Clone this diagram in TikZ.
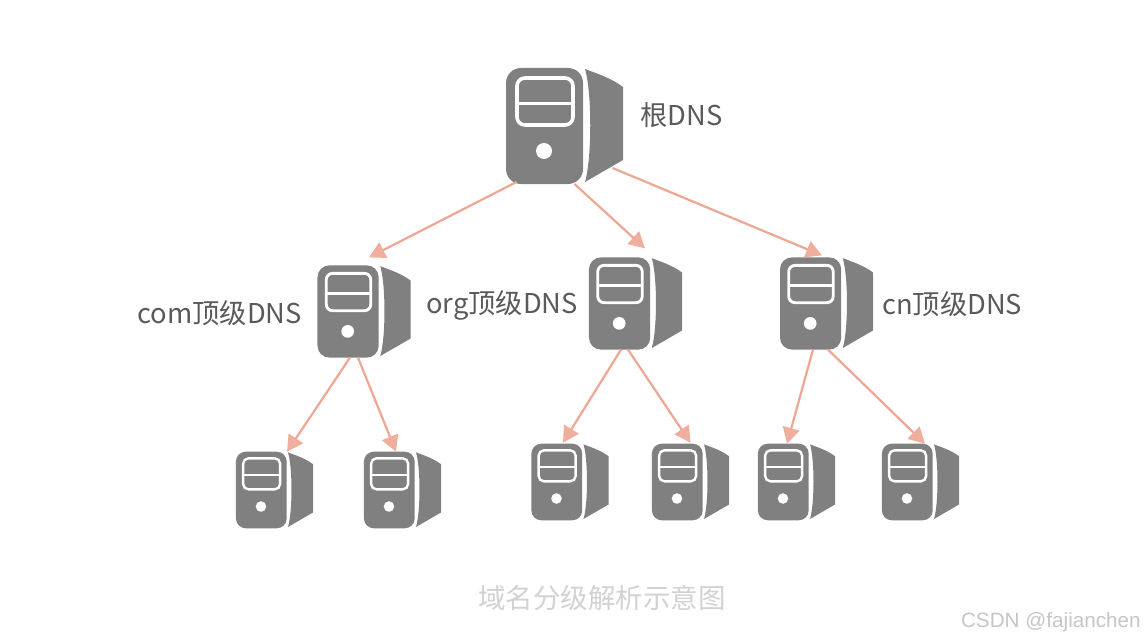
\documentclass[tikz,border=0pt]{standalone}
\usepackage{fontspec}
\usetikzlibrary{arrows.meta}
\newfontfamily\cjk{Noto Sans CJK SC}
\setmainfont{Liberation Sans}
\definecolor{srvgray}{HTML}{808080}
\definecolor{linkred}{HTML}{EDA793}
\definecolor{headred}{HTML}{F0AF9E}
\definecolor{labelgray}{HTML}{5A5A5A}
\definecolor{titlegray}{HTML}{D2D2D2}
\definecolor{markgray}{HTML}{C6C6C6}
\tikzset{
  srvbox/.style={inner sep=0pt,outer sep=0pt,minimum width=#1*117pt,minimum height=#1*116pt},
  link/.style={draw=linkred,line width=2.2pt,-{Triangle[length=16pt,width=17pt,fill=headred,color=headred]}},
  srvlabel/.style={text=labelgray,font=\cjk\fontsize{27.3}{32}\selectfont,inner sep=0pt},
}
% \srvdraw{name}{centre x}{centre y}{scale}
\newcommand{\srvdraw}[4]{%
  \begin{scope}[shift={(#2-#4*58.5,#3-#4*58)},x=#4*1pt,y=-#4*1pt]
    \fill[srvgray] (79,1) .. controls (86,25) and (86,90) .. (79,114) -- (117,92) -- (117,19) .. controls (105,10) and (92,6) .. cycle;
    \fill[srvgray,rounded corners=#4*15pt] (0,0) rectangle (77,116);
    \draw[white,line width=#4*3.6pt,rounded corners=#4*8pt] (11,10) rectangle (67,57);
    \draw[white,line width=#4*3.6pt] (11,35.5) -- (67,35.5);
    \fill[white] (38,83) circle (8);
  \end{scope}%
  \node[srvbox=#4] (#1) at (#2,#3) {};%
}
\begin{document}
\begin{tikzpicture}[x=1pt,y=-1pt]
\useasboundingbox (0,0) rectangle (1146,642);
\fill[white] (0,0) rectangle (1146,642);
\srvdraw{root}{564.5}{126}{1}
\srvdraw{com}{364}{311.5}{0.795}
\srvdraw{org}{635.5}{303.5}{0.795}
\srvdraw{cn}{826.5}{303.5}{0.795}
\srvdraw{ca}{274.5}{490}{0.66}
\srvdraw{cb}{402.5}{490}{0.66}
\srvdraw{oa}{570}{482}{0.66}
\srvdraw{ob}{690.5}{482}{0.66}
\srvdraw{na}{796.5}{482}{0.66}
\srvdraw{nb}{920.5}{482}{0.66}
\draw[link] ([xshift=-48pt,yshift=2pt]root.south) -- ([xshift=5pt,yshift=8pt]com.north);
\draw[link] ([xshift=10pt]root.south) -- ([xshift=9.5pt,yshift=9pt]org.north);
\draw[link] ([xshift=48pt,yshift=16pt]root.south) -- ([xshift=-4.5pt,yshift=2pt]cn.north);
\draw[link] ([xshift=-14pt]com.south) -- ([xshift=12.5pt]ca.north);
\draw[link] ([xshift=-6pt]com.south) -- ([xshift=-6.5pt]cb.north);
\draw[link] ([xshift=-14.5pt]org.south) -- ([xshift=-7pt,yshift=1pt]oa.north);
\draw[link] ([xshift=-7.5pt]org.south) -- ([yshift=1pt]ob.north);
\draw[link] ([xshift=-13.5pt]cn.south) -- ([xshift=-9.5pt]na.north);
\draw[link] ([xshift=1.5pt]cn.south) -- ([xshift=4.5pt]nb.north);
\node[srvlabel,anchor=west] (lroot) at (640,115) {根DNS};
\node[srvlabel,anchor=east] (lcom) at (302,313) {com顶级DNS};
\node[srvlabel,anchor=east] (lorg) at (578,305) {org顶级DNS};
\node[srvlabel,anchor=west] (lcn) at (882,304) {cn顶级DNS};
\node[text=titlegray,font=\cjk\fontsize{27.5}{32}\selectfont,inner sep=0pt] (title) at (602,598) {域名分级解析示意图};
\node[text=markgray,font=\fontsize{20.7}{24}\selectfont,inner sep=0pt,anchor=east] (mark) at (1141,622) {CSDN @fajianchen};
\end{tikzpicture}
\end{document}
